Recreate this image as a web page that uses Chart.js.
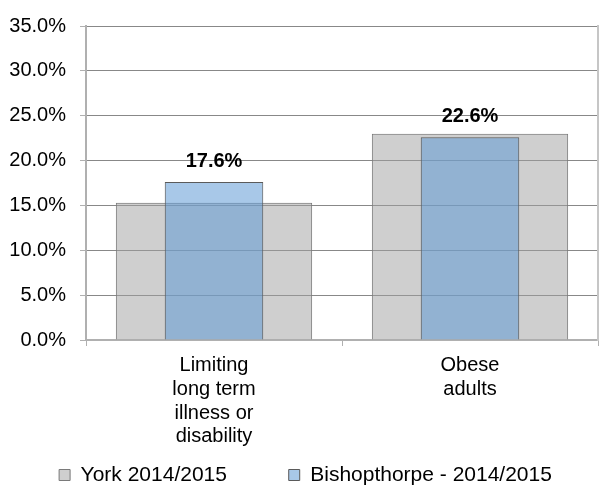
<!DOCTYPE html>
<html>
<head>
<meta charset="utf-8">
<title>York vs Bishopthorpe</title>
<script src="https://cdn.jsdelivr.net/npm/chart.js@4.4.0/dist/chart.umd.min.js"></script>
<style>
    html, body { margin: 0; padding: 0; background: #ffffff; }
    #wrap { width: 611px; height: 486px; position: relative; }
</style>
</head>
<body>
<div id="wrap"><canvas id="healthChart"></canvas></div>
<script>
// Datos del grafico
const categories = [
    ['Limiting', 'long term', 'illness or', 'disability'],
    ['Obese', 'adults']
];
const yorkValues = [15.3, 23.0];
const bishopValues = [17.6, 22.6];
const seriesNames = ['York 2014/2015', 'Bishopthorpe - 2014/2015'];
const yTickMax = 35;
const yTickStep = 5;

// Etiquetas encima de las barras de Bishopthorpe
const valueLabels = {
    id: 'valueLabels',
    afterDatasetsDraw(chart) {
        const ctx = chart.ctx;
        const meta = chart.getDatasetMeta(1);
        ctx.save();
        ctx.font = 'bold 20px Arial, "Liberation Sans", sans-serif';
        ctx.fillStyle = '#000000';
        ctx.textAlign = 'center';
        ctx.textBaseline = 'alphabetic';
        meta.data.forEach(function(bar, i) {
            ctx.fillText(bishopValues[i].toFixed(1) + '%', bar.x, bar.y - 15);
        });
        ctx.restore();
    }
};

Chart.defaults.font.family = 'Arial, "Liberation Sans", sans-serif';
Chart.defaults.font.size = 20;
Chart.defaults.color = '#000000';

new Chart(document.getElementById('healthChart'), {
    type: 'bar',
    data: {
        labels: categories,
        datasets: [{
            label: seriesNames[0],
            data: yorkValues,
            backgroundColor: 'rgba(160, 160, 160, 0.5)',
            borderColor: '#7a7a7a',
            borderWidth: 1,
            barPercentage: 0.767,
            categoryPercentage: 1,
            order: 1
        }, {
            label: seriesNames[1],
            data: bishopValues,
            backgroundColor: 'rgba(96, 155, 213, 0.55)',
            borderColor: '#5a5a5a',
            borderWidth: 1,
            barPercentage: 0.385,
            categoryPercentage: 1,
            order: 0
        }]
    },
    options: {
        responsive: true,
        maintainAspectRatio: false,
        animation: false,
        grouped: false,
        layout: {
            padding: { left: 0, right: 0, top: 22, bottom: 0 }
        },
        plugins: {
            tooltip: { enabled: false },
            legend: {
                position: 'bottom',
                maxHeight: 36,
                labels: {
                    boxWidth: 11,
                    boxHeight: 11,
                    padding: 14.5,
                    color: '#000000',
                    font: { size: 21 },
                    sort: function(a, b) { return a.datasetIndex - b.datasetIndex; },
                    generateLabels: function(chart) {
                        const items = Chart.defaults.plugins.legend.labels.generateLabels(chart);
                        // un poco de aire entre las dos entradas, como en el original
                        items.forEach(function(item) {
                            if (item.datasetIndex === 0) item.text += '\u2003\u2003\u2005';
                        });
                        return items;
                    }
                }
            }
        },
        scales: {
            x: {
                afterFit: function(scale) { scale.height = 110; },
                grid: {
                    drawOnChartArea: false,
                    color: '#b0b0b0',
                    tickLength: 6
                },
                border: { color: '#b0b0b0', width: 2 },
                ticks: {
                    padding: 8,
                    font: { size: 20, lineHeight: 1.18 }
                }
            },
            y: {
                min: 0,
                max: yTickMax,
                afterFit: function(scale) { scale.width = 86; },
                grid: {
                    color: '#888888',
                    tickColor: '#b0b0b0',
                    tickLength: 6
                },
                border: { color: '#b0b0b0', width: 2 },
                ticks: {
                    stepSize: yTickStep,
                    padding: 14,
                    callback: function(value) {
                        return value.toFixed(1) + '%';
                    }
                }
            },
            // eje derecho vacio: solo dibuja el borde del area
            yRight: {
                position: 'right',
                min: 0,
                max: yTickMax,
                afterFit: function(scale) { scale.width = 13; },
                grid: { drawOnChartArea: false, drawTicks: false },
                border: { color: '#c6c6c6', width: 2 },
                ticks: { display: false }
            }
        }
    },
    plugins: [valueLabels]
});
</script>
</body>
</html>
